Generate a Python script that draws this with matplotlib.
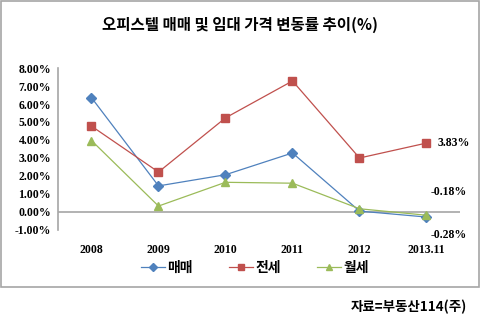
import matplotlib.pyplot as plt
from matplotlib.patches import Rectangle

# data (percent)
years = ['2008', '2009', '2010', '2011', '2012', '2013.11']
sale = [6.35, 1.45, 2.07, 3.28, 0.05, -0.28]      # 매매
jeonse = [4.77, 2.22, 5.23, 7.28, 3.00, 3.83]    # 전세
wolse = [3.97, 0.33, 1.65, 1.60, 0.18, -0.18]    # 월세
yticks = [-1, 0, 1, 2, 3, 4, 5, 6, 7, 8]

KR = ['Noto Sans CJK KR', 'DejaVu Sans']
NUM = ['Liberation Serif', 'Noto Sans CJK KR']


def main():
    fig = plt.figure(figsize=(4.81, 3.22), dpi=100)
    ax = fig.add_axes([58 / 481, 1 - 230 / 322, 402 / 481, 162 / 322])

    # chart frame
    fig.patches.append(Rectangle((0.002, 1 - 287 / 322), 0.994, 287 / 322 - 0.004,
                                 transform=fig.transFigure, fill=False,
                                 edgecolor='#a6a6a6', linewidth=1.2))

    x = list(range(len(years)))
    ax.plot(x, sale, color='#4F81BD', lw=0.9, marker='D', ms=5,
            label='매매')
    ax.plot(x, jeonse, color='#C0504D', lw=0.9, marker='s', ms=5.3,
            label='전세')
    ax.plot(x, wolse, color='#9BBB59', lw=0.9, marker='^', ms=6,
            label='월세')

    ax.set_xlim(-0.5, 5.5)
    ax.set_ylim(-1, 8)
    ax.axhline(0, color='#a6a6a6', lw=1.2, zorder=0)

    for s in ['top', 'right', 'bottom']:
        ax.spines[s].set_visible(False)
    ax.spines['left'].set_color('#a6a6a6')
    ax.spines['left'].set_linewidth(1.2)

    ax.set_yticks(yticks)
    ax.set_yticklabels(['%.2f%%' % v for v in yticks],
                       fontfamily=NUM, fontweight='bold', fontsize=8.5)
    ax.set_xticks(x)
    ax.set_xticklabels(years, fontfamily=NUM, fontweight='bold', fontsize=8.5)
    ax.tick_params(axis='y', length=0, pad=5)
    ax.tick_params(axis='x', length=0, pad=10)

    # data labels for the last point
    ax.annotate('%.2f%%' % jeonse[-1], xy=(5, jeonse[-1]), xytext=(11, 0),
                textcoords='offset pixels', ha='left', va='center',
                fontfamily=NUM, fontweight='bold', fontsize=8.5)
    ax.annotate('%.2f%%' % wolse[-1], xy=(5, wolse[-1]), xytext=(4, 23),
                textcoords='offset pixels', ha='left', va='center',
                fontfamily=NUM, fontweight='bold', fontsize=8.5)
    ax.annotate('%.2f%%' % sale[-1], xy=(5, sale[-1]), xytext=(4, -18),
                textcoords='offset pixels', ha='left', va='center',
                fontfamily=NUM, fontweight='bold', fontsize=8.5)

    ax.legend(loc='center', bbox_to_anchor=(0.49, -0.235), ncol=3,
              frameon=False, handlelength=1.7, columnspacing=2.6,
              handletextpad=0.2, markerscale=0.8,
              prop={'family': KR, 'weight': 'bold', 'size': 10})

    fig.text(0.5, 1 - 25 / 322, '오피스텔 매매 및 임대 가격 변동률 추이(%)',
             ha='center', va='center', fontfamily=KR, fontweight='bold',
             fontsize=11.2)
    fig.text(467 / 481, 1 - 307 / 322, '자료=부동산114(주)',
             ha='right', va='center', fontfamily=KR, fontweight='bold',
             fontsize=9.7)

    fig.savefig('out.png', dpi=100)


if __name__ == '__main__':
    main()
